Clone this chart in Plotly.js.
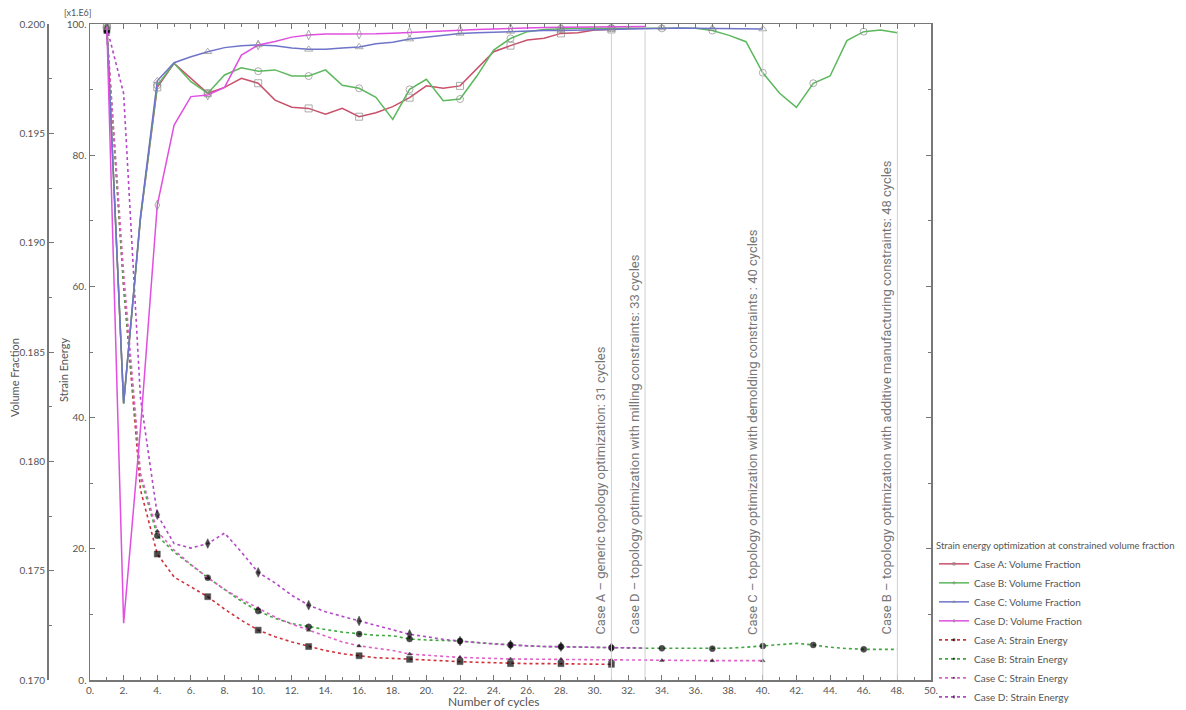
<!DOCTYPE html>
<html>
<head>
<meta charset="utf-8">
<script src="https://cdn.plot.ly/plotly-3.0.1.min.js"></script>
<style>
html,body{margin:0;padding:0;background:#fff;}
#chart{width:1186px;height:710px;}
</style>
</head>
<body>
<div id="chart"></div>
<script>
// ---------------- DATA ----------------
const seriesNames = ["Case A", "Case B", "Case C", "Case D"];

// Volume fraction per cycle (starting at cycle 1)
const vfA = [0.1999, 0.18265, 0.1911, 0.1971, 0.1982, 0.19752, 0.19683, 0.1971, 0.19752, 0.19729,
             0.19652, 0.19619, 0.19614, 0.19587, 0.19614, 0.19576, 0.19594, 0.19622, 0.19663, 0.19717,
             0.19706, 0.19717, 0.19797, 0.19873, 0.19901, 0.19927, 0.19935, 0.19957, 0.1996, 0.19973,
             0.19975];
const vfB = [0.1999, 0.18265, 0.1911, 0.1972, 0.1982, 0.19736, 0.19683, 0.19767, 0.198, 0.19784,
             0.1979, 0.19762, 0.19762, 0.1979, 0.1972, 0.19706, 0.19665, 0.19564, 0.19701, 0.19747,
             0.19649, 0.19657, 0.19762, 0.19881, 0.19934, 0.19965, 0.19975, 0.19978, 0.1998, 0.1998,
             0.1998, 0.1998, 0.1998, 0.1998, 0.1998, 0.1998, 0.1997, 0.19948, 0.19919, 0.19777,
             0.19683, 0.19619, 0.19729, 0.19762, 0.19924, 0.19965, 0.19973, 0.1996];
const vfC = [0.1999, 0.18265, 0.1912, 0.1974, 0.19823, 0.1985, 0.19873, 0.19892, 0.199, 0.19904,
             0.199, 0.1989, 0.19884, 0.19884, 0.1989, 0.19895, 0.1991, 0.19917, 0.19931, 0.1994,
             0.1995, 0.19957, 0.1996, 0.19963, 0.19966, 0.19968, 0.1997, 0.1997, 0.19972, 0.19974,
             0.19975, 0.19978, 0.1998, 0.19982, 0.19982, 0.19981, 0.1998, 0.19979, 0.19978, 0.19977];
const vfD = [0.1999, 0.1726, 0.1815, 0.19172, 0.19538, 0.19668, 0.19675, 0.1971, 0.19858, 0.19904,
             0.1992, 0.1994, 0.1995, 0.19954, 0.19954, 0.19954, 0.19955, 0.19958, 0.19962, 0.19965,
             0.1997, 0.19973, 0.19975, 0.19977, 0.1998, 0.19982, 0.19984, 0.19985, 0.19986, 0.19987,
             0.19988, 0.19988, 0.19988];

// Strain energy per cycle [x1.E6] (starting at cycle 1)
const seA = [99, 60, 29, 19.2, 15.7, 14.2, 12.7, 10.8, 9.1, 7.6,
             6.6, 5.8, 5.1, 4.5, 4.0, 3.7, 3.4, 3.3, 3.15, 3.0,
             2.9, 2.8, 2.7, 2.6, 2.5, 2.5, 2.5, 2.49, 2.45, 2.4,
             2.39];
const seB = [99, 60, 31, 22.0, 19.5, 17.5, 15.6, 13.8, 12.0, 10.5,
             9.4, 8.6, 8.1, 7.7, 7.3, 7.0, 6.8, 6.75, 6.25, 6.1,
             6.0, 5.94, 5.7, 5.5, 5.34, 5.2, 5.1, 5.08, 5.0, 4.95,
             4.93, 4.9, 4.85, 4.83, 4.8, 4.8, 4.78, 4.85, 5.0, 5.18,
             5.45, 5.59, 5.34, 5.0, 4.8, 4.67, 4.67, 4.67];
const seC = [99, 62, 31.5, 22.7, 19.8, 17.6, 15.6, 13.8, 12.3, 10.9,
             9.6, 8.5, 7.6, 6.6, 5.8, 5.2, 4.8, 4.5, 3.96, 3.75,
             3.6, 3.45, 3.35, 3.25, 3.2, 3.18, 3.15, 3.15, 3.1, 3.07,
             3.05, 3.0, 2.98, 2.97, 2.96, 2.95, 2.95, 2.95, 2.95, 2.95];
const seD = [99.5, 89.4, 43, 25.2, 20.8, 20.1, 20.8, 22.4, 19.5, 16.4,
             14.8, 12.9, 11.4, 10.4, 9.7, 9.0, 8.3, 7.6, 6.96, 6.6,
             6.2, 5.94, 5.7, 5.5, 5.34, 5.2, 5.1, 5.08, 5.0, 4.95,
             4.93, 4.9, 4.88];

// Milestones (final cycle count per case)
const milestoneCycles = [31, 33, 40, 48];
const milestoneLabels = [
  "Case A \u2013 generic topology optimization: 31 cycles",
  "Case D \u2013 topology optimization with milling constraints: 33 cycles",
  "Case C \u2013 topology optimization with demolding constraints : 40 cycles",
  "Case B \u2013 topology optimization with additive manufacturing constraints: 48 cycles"
];

// Tick labels
const xTickVals = [0,2,4,6,8,10,12,14,16,18,20,22,24,26,28,30,32,34,36,38,40,42,44,46,48,50];
const xTickText = ["0.","2.","4.","6.","8.","10.","12.","14.","16.","18.","20.","22.","24.","26.","28.","30.","32.","34.","36.","38.","40.","42.","44.","46.","48.","50."];
const seTickVals = [0,20,40,60,80,100];
const seTickText = ["0.","20.","40.","60.","80.","100."];
const vfTickVals = [0.170,0.175,0.180,0.185,0.190,0.195,0.200];
const vfTickText = ["0.170","0.175","0.180","0.185","0.190","0.195","0.200"];

// ---------------- STYLE ----------------
const FONT = "Lato, 'Open Sans', sans-serif";
const TXT = "#555";
const vfColors = ["#c8506a", "#5cb85c", "#6f74c9", "#e04fe0"];
const seColors = ["#d0303a", "#3fa83f", "#e060c8", "#b447c8"];
const vfSymbols = ["square-open", "circle-open", "triangle-up-open", "diamond-tall-open"];
const seSymbols = ["square", "circle", "triangle-up", "diamond-tall"];
const seSizes = [6, 6, 4, 7];

function cyclesFor(arr){ return arr.map((_, i) => i + 1); }
function markerSizes(arr, s){ return arr.map((_, i) => (i % 3 === 0 ? s : 0)); }

const vfData = [vfA, vfB, vfC, vfD];
const seData = [seA, seB, seC, seD];
const traces = [];
vfData.forEach((v, k) => {
  traces.push({
    x: cyclesFor(v), y: v, yaxis: "y2", type: "scatter", mode: "lines+markers",
    name: seriesNames[k] + ": Volume Fraction",
    line: {color: vfColors[k], width: 1.5},
    marker: {symbol: vfSymbols[k], color: "#8a8a8a", size: markerSizes(v, 7), line: {width: 1, color: "#8a8a8a"}}
  });
});
seData.forEach((v, k) => {
  traces.push({
    x: cyclesFor(v), y: v, yaxis: "y", type: "scatter", mode: "lines+markers",
    name: seriesNames[k] + ": Strain Energy",
    line: {color: seColors[k], width: 1.6, dash: "dot"},
    marker: {symbol: seSymbols[k], color: "#000", size: markerSizes(v, seSizes[k]), line: {width: 0.5, color: "#000"}}
  });
});

const L = 40, R = 255, T = 24, B = 30, W = 1186, H = 710;
const pw = W - L - R, ph = H - T - B;
const plotLeftPx = 90;
const vfAxisPx = 47;

const shapes = milestoneCycles.map(c => ({
  type: "line", xref: "x", yref: "y", x0: c, x1: c, y0: 0, y1: 99,
  line: {color: "#cfcfcf", width: 1}
}));

const annotations = milestoneCycles.map((c, i) => ({
  x: c, y: 6.6, xref: "x", yref: "y", text: milestoneLabels[i], showarrow: false,
  textangle: -90, xanchor: "right", yanchor: "bottom", xshift: -1,
  font: {family: "Roboto, 'Open Sans', sans-serif", size: 13, color: "#777"}
}));
annotations.push(
  {xref: "paper", yref: "paper", x: (15 - L) / pw, y: (H - B - 378) / ph, text: "Volume Fraction",
   xanchor: "center", yanchor: "middle",
   showarrow: false, textangle: -90, font: {family: FONT, size: 11, color: TXT}},
  {xref: "paper", yref: "paper", x: (63 - L) / pw, y: (H - B - 370) / ph, text: "Strain Energy",
   xanchor: "center", yanchor: "middle",
   showarrow: false, textangle: -90, font: {family: FONT, size: 11, color: TXT}},
  {xref: "paper", yref: "paper", x: (78 - L) / pw, y: (H - B - 13) / ph, text: "[x1.E6]",
   xanchor: "center", yanchor: "middle",
   showarrow: false, font: {family: FONT, size: 9, color: TXT}},
  {xref: "paper", yref: "paper", x: (493 - L) / pw, y: (H - B - 701) / ph, text: "Number of cycles",
   xanchor: "center", yanchor: "middle",
   showarrow: false, font: {family: FONT, size: 12, color: TXT}}
);

const axisCommon = {
  showgrid: false, zeroline: false, showline: true, linecolor: "#777", linewidth: 1.5,
  ticks: "inside", ticklen: 5, tickcolor: "#777", tickwidth: 1,
  tickfont: {family: FONT, size: 10, color: TXT}, tickmode: "array", automargin: false
};

const layout = {
  width: W, height: H,
  margin: {l: L, r: R, t: T, b: B, pad: 0, autoexpand: false},
  paper_bgcolor: "#fff", plot_bgcolor: "#fff",
  showlegend: true,
  legend: {
    xref: "container", yref: "container",
    x: 934 / W, y: 1 - 537 / H, xanchor: "left", yanchor: "top",
    bgcolor: "rgba(0,0,0,0)", borderwidth: 0,
    font: {family: FONT, size: 10, color: TXT},
    title: {text: "Strain energy optimization at constrained volume fraction", font: {family: FONT, size: 9.5, color: TXT}, side: "top"},
    tracegroupgap: 0, itemwidth: 30
  },
  xaxis: Object.assign({}, axisCommon, {
    domain: [(plotLeftPx - L) / pw, 1], range: [0, 50],
    tickvals: xTickVals, ticktext: xTickText, mirror: "ticks",
    minor: {tickmode: "linear", tick0: 0, dtick: 1, ticklen: 3, ticks: "inside", tickcolor: "#777"}
  }),
  yaxis: Object.assign({}, axisCommon, {
    range: [0, 100], anchor: "x", tickvals: seTickVals, ticktext: seTickText, mirror: "ticks",
    minor: {tickmode: "linear", tick0: 0, dtick: 10, ticklen: 3, ticks: "inside", tickcolor: "#777"}
  }),
  yaxis2: Object.assign({}, axisCommon, {
    range: [0.170, 0.200], overlaying: "y", anchor: "free", side: "left",
    position: (vfAxisPx - L) / pw, tickvals: vfTickVals, ticktext: vfTickText,
    minor: {tickmode: "linear", tick0: 0.170, dtick: 0.0025, ticklen: 3, ticks: "inside", tickcolor: "#777"}
  }),
  shapes: shapes,
  annotations: annotations
};

Plotly.newPlot("chart", traces, layout, {displayModeBar: false, staticPlot: true});
</script>
</body>
</html>
